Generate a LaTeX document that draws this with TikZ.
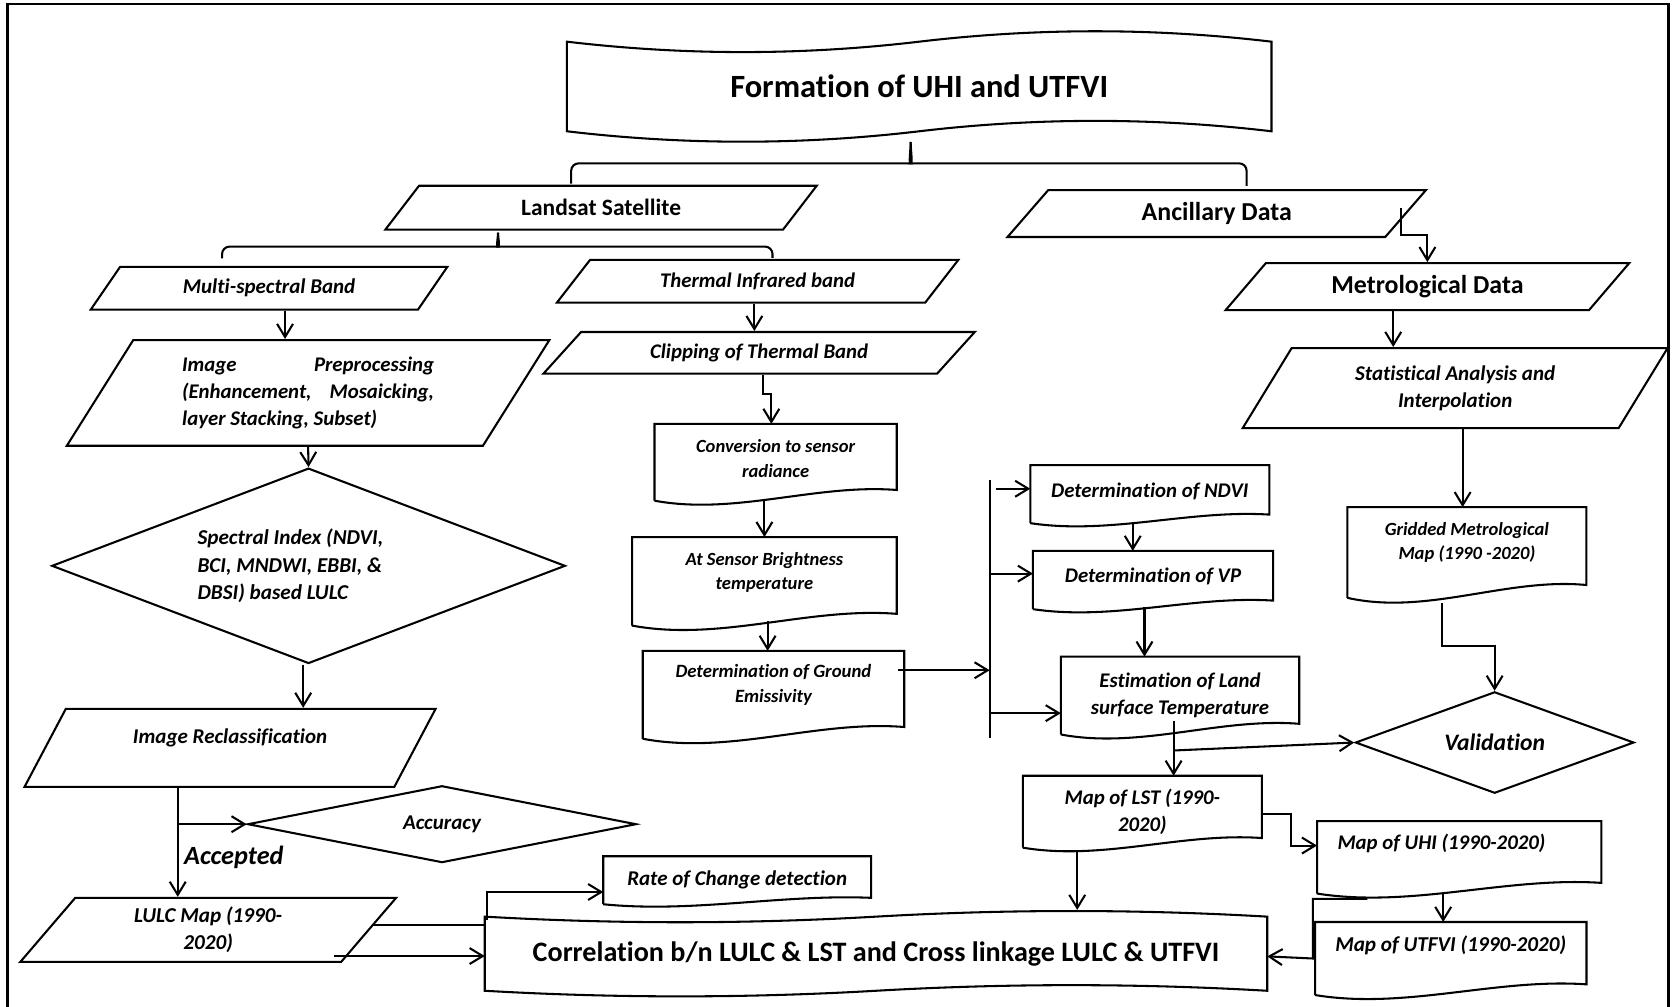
\documentclass[tikz,border=0pt]{standalone}
\usepackage{fontspec}
\setmainfont{Carlito}[Ligatures=NoCommon]
\usetikzlibrary{arrows.meta, positioning, shapes.geometric, calc}
\newcommand{\uu}{0.02cm}
\tikzset{
  every picture/.style={line width=1.1pt},
  line/.style={draw, line width=1.1pt},
  arrow/.style={draw, -{Straight Barb[length=7pt, width=8.5pt]}, line width=1.1pt},
  para/.code={\pgfmathsetmacro\rightang{180-#1}%
    \pgfkeysalso{trapezium, draw, trapezium left angle=#1, trapezium right angle=\rightang, trapezium stretches body, inner sep=0pt, align=flush center}},
  decision/.style={diamond, draw, aspect=#1, inner sep=0pt, align=flush center},
  docbox/.style={rectangle, inner sep=0pt, align=flush center},
  bi/.style={font=\bfseries\itshape\fontsize{#1}{1.3\dimexpr#1pt\relax}\selectfont},
  bd/.style={font=\bfseries\fontsize{#1}{1.22\dimexpr#1pt\relax}\selectfont},
}
\begin{document}
\begin{tikzpicture}[x=\uu, y=-\uu]
  \useasboundingbox (0,0) rectangle (1568,943);
  \draw[line width=1.3pt] (7,960) -- (7,4) -- (1563,4) -- (1563,960);

  % heading and the two data sources
  \node[docbox, minimum width=658*\uu, minimum height=82*\uu, bd=17.3] (title) at (861,81) {Formation of UHI and UTFVI};
  \node[para=26.3, minimum width=404*\uu, minimum height=41*\uu, bd=12.5] (landsat) at (563,194.5) {Landsat Satellite};
  \node[para=28.6, minimum width=392*\uu, minimum height=44*\uu, bd=13.8] (ancillary) at (1139.7,200) {Ancillary Data};

  % left column: optical bands to LULC
  \node[para=31.6, minimum width=334*\uu, minimum height=40*\uu, bi=11.2] (multi) at (252,270) {Multi-spectral Band};
  \node[para=47.4, minimum width=452*\uu, minimum height=99*\uu, bi=11.1, text width=236*\uu, align=flush left] (preproc) at (288.6,368) {Image\hfill Preprocessing\\(Enhancement,\hfill Mosaicking,\\layer Stacking, Subset)};
  \node[decision=2.63, minimum width=481*\uu, minimum height=183*\uu, bi=11.3, text width=208*\uu, align=flush left] (spectral) at (289,530) {Spectral Index (NDVI,\\BCI, MNDWI, EBBI, \&\\DBSI) based LULC};
  \node[para=43.5, minimum width=385*\uu, minimum height=73*\uu, bi=11.2, text depth=13pt] (reclass) at (215.5,700.5) {Image Reclassification};
  \node[decision=5.06, minimum width=364*\uu, minimum height=72*\uu, bi=11.2] (accuracy) at (414,772) {Accuracy};
  \node[bi=14] (accepted) at (219,803) {Accepted};
  \node[para=40.2, minimum width=352*\uu, minimum height=60*\uu, bi=11.3] (lulc) at (195,871) {LULC Map (1990-\\2020)};

  % middle column: thermal band to LST
  \node[para=27.2, minimum width=376*\uu, minimum height=40*\uu, bi=11.1] (thermal) at (709.6,263.5) {Thermal Infrared band};
  \node[para=25.7, minimum width=404*\uu, minimum height=39*\uu, bi=11.1] (clipping) at (711,330.5) {Clipping of Thermal Band};
  \node[docbox, minimum width=225*\uu, minimum height=70*\uu, bi=9.9, text depth=4pt] (conversion) at (726.5,433) {Conversion to sensor\\radiance};
  \node[docbox, minimum width=246*\uu, minimum height=81*\uu, bi=9.9, text depth=11pt] (brightness) at (716,544.5) {At Sensor Brightness\\temperature};
  \node[docbox, minimum width=243*\uu, minimum height=80.4*\uu, bi=10, text depth=12pt] (emissivity) at (724.5,650.8) {Determination of Ground\\Emissivity};
  \node[docbox, minimum width=222*\uu, minimum height=52.5*\uu, bi=11.1, text depth=4.5pt] (ndvi) at (1077,462.8) {Determination of NDVI};
  \node[docbox, minimum width=223*\uu, minimum height=52.6*\uu, bi=11.1, text depth=5pt] (vp) at (1080,543.3) {Determination of VP};
  \node[docbox, minimum width=221.4*\uu, minimum height=71*\uu, bi=11.1] (estimation) at (1105.3,651.5) {Estimation of Land\\surface Temperature};
  \node[docbox, minimum width=222*\uu, minimum height=65.4*\uu, bi=11.1] (lstmap) at (1070,760.3) {Map of LST (1990-\\2020)};
  \node[docbox, minimum width=264.4*\uu, minimum height=66*\uu, bi=11.1, text width=228*\uu, align=flush left, text depth=16.5pt] (uhimap) at (1366.8,803) {Map of UHI (1990-2020)};
  \node[docbox, minimum width=252.3*\uu, minimum height=66.5*\uu, bi=11.3, text depth=16pt] (utfvimap) at (1358.9,897.8) {Map of UTFVI (1990-2020)};
  \node[docbox, minimum width=249*\uu, minimum height=43*\uu, bi=11.2] (rate) at (690.5,824.5) {Rate of Change detection};
  \node[docbox, minimum width=731*\uu, minimum height=67.5*\uu, bd=15] (correlation) at (820.5,893.3) {Correlation b/n LULC \& LST and Cross linkage LULC \& UTFVI};

  % right column: meteorological data
  \node[para=29.3, minimum width=378*\uu, minimum height=44*\uu, bd=13.8] (metro) at (1337,268.5) {Metrological Data};
  \node[para=42.8, minimum width=398*\uu, minimum height=75*\uu, bi=11.2] (stats) at (1363,363.5) {Statistical Analysis and\\Interpolation};
  \node[docbox, minimum width=222*\uu, minimum height=83*\uu, bi=9.9, text depth=12.7pt] (gridded) at (1374,517.5) {Gridded Metrological\\Map (1990 -2020)};
  \node[decision=2.75, minimum width=261*\uu, minimum height=95*\uu, bi=12.6] (validation) at (1400,695.5) {Validation};

  % outlines: documents with a wavy bottom, banners waved top and bottom
  \foreach \n/\r in {conversion/10, brightness/11, emissivity/11, ndvi/8, vp/8, estimation/10, gridded/12, lstmap/9, uhimap/10, utfvimap/10, rate/6}
    \draw[line] (\n.south west) -- (\n.north west) -- (\n.north east) -- ($(\n.south east)+(0,-\r)$)
      .. controls ($(\n.south east)!0.333!(\n.south west)+(0,-1.6*\r)$) and ($(\n.south east)!0.667!(\n.south west)+(0,1.4*\r)$) .. (\n.south west);
  \foreach \n/\a in {title/13, correlation/7}
    \draw[line] (\n.north west)
      .. controls ($(\n.north west)!0.1667!(\n.north east)+(0,\a)$) and ($(\n.north west)!0.3333!(\n.north east)+(0,\a)$) .. (\n.north)
      .. controls ($(\n.north west)!0.6667!(\n.north east)+(0,-\a)$) and ($(\n.north west)!0.8333!(\n.north east)+(0,-\a)$) .. (\n.north east)
      -- (\n.south east)
      .. controls ($(\n.south west)!0.8333!(\n.south east)+(0,-\a)$) and ($(\n.south west)!0.6667!(\n.south east)+(0,-\a)$) .. (\n.south)
      .. controls ($(\n.south west)!0.3333!(\n.south east)+(0,\a)$) and ($(\n.south west)!0.1667!(\n.south east)+(0,\a)$) .. (\n.south west)
      -- cycle;

  % braces under the heading and under Landsat
  \coordinate (tip) at ($(title.center)+(-8,52)$);
  \draw[line, rounded corners=4pt] ($(landsat.center |- landsat.north)+(-28,-1)$) |- ($(tip)+(-7,20)$) .. controls ($(tip)+(-2,20)$) and ($(tip)+(0,8)$) .. (tip);
  \draw[line, rounded corners=4pt] ($(ancillary.center |- ancillary.north)+(28,-3)$) |- ($(tip)+(7,20)$) .. controls ($(tip)+(2,20)$) and ($(tip)+(0,8)$) .. (tip);
  \coordinate (tip2) at ($(landsat.center |- landsat.south)+(-96.5,2)$);
  \draw[line, rounded corners=4pt] ($(multi.center |- multi.north)+(-44,-7)$) |- ($(tip2)+(-7,13)$) .. controls ($(tip2)+(-2,13)$) and ($(tip2)+(0,5)$) .. (tip2);
  \draw[line, rounded corners=4pt] ($(thermal.center |- thermal.north)+(14,-1)$) |- ($(tip2)+(7,13)$) .. controls ($(tip2)+(2,13)$) and ($(tip2)+(0,5)$) .. (tip2);

  % left column
  \draw[arrow] ($(multi.center |- multi.south)+(15,0)$) coordinate (m0) -- (m0 |- preproc.north);
  \draw[arrow] (preproc.center |- preproc.south) -- (spectral.north);
  \draw[arrow] ($(spectral.south)+(-5,0)$) coordinate (p0) -- (p0 |- reclass.north);
  \draw[arrow] ($(reclass.center |- reclass.south)+(-49,0)$) coordinate (r0) -- (r0 |- lulc.north);
  \draw[arrow] (r0 |- accuracy.west) -- (accuracy.west);
  \draw[line] ($(lulc.center)+(153,-4.5)$) coordinate (c1) -- (c1 -| correlation.west);
  \draw[arrow] ($(lulc.center)+(118,24.5)$) coordinate (c2) -- (c2 -| correlation.west);
  \draw[arrow] ($(correlation.west)+(2,-32)$) |- ($(rate.west)+(0,11)$);

  % middle column
  \draw[arrow] ($(thermal.center |- thermal.south)+(-3,0)$) coordinate (h1) -- (h1 |- clipping.north);
  \draw[arrow] ($(clipping.center |- clipping.south)+(4,0)$) |- ($(conversion.north)+(-4,-28)$) -- ($(conversion.north)+(-4,0)$);
  \draw[arrow] ($(conversion.south -| brightness.north)+(0,-2)$) -- (brightness.north);
  \draw[arrow] ($(brightness.south)+(3,-4)$) coordinate (b0) -- (b0 |- emissivity.north);
  \coordinate (bustop) at (927,450);
  \coordinate (busbot) at (927,691);
  \draw[line] (bustop) -- (busbot);
  \draw[arrow] ($(emissivity.east)+(-6,-23)$) coordinate (e0) -- (e0 -| bustop);
  \draw[arrow] ($(ndvi.west -| bustop)+(6,-5)$) -- ($(ndvi.west)+(0,-5)$);
  \draw[arrow] ($(vp.west -| bustop)+(0,-6)$) -- ($(vp.west)+(0,-6)$);
  \draw[arrow] ($(estimation.west -| bustop)+(0,16.5)$) -- ($(estimation.west)+(0,16.5)$);
  \draw[arrow] ($(ndvi.south)+(-16,0)$) coordinate (n0) -- (n0 |- vp.north);
  \draw[arrow] ($(vp.south)+(-8,-2)$) coordinate (v0) -- (v0 |- estimation.north);
  \draw[arrow] ($(estimation.south)+(-6,-13)$) coordinate (t0) -- (t0 |- lstmap.north);
  \draw[arrow] ($(t0)+(0,28)$) -- (validation.west);
  \draw[arrow] ($(lstmap.south)+(-61,3)$) coordinate (s0) -- ($(s0 |- correlation.center)+(0,-41)$);
  \draw[arrow] ($(lstmap.east)+(0,2)$) -- ++(27,0) |- ($(uhimap.west)+(0,-11)$);
  \draw[arrow] ($(uhimap.south)+(-15,-1)$) coordinate (u0) -- (u0 |- utfvimap.north);
  \draw[arrow] ($(uhimap.south)+(-86,5)$) -| ($(utfvimap.west)+(-2,0)$) -- ($(utfvimap.west -| correlation.east)+(0,-2)$);

  % right column
  \draw[arrow] ($(ancillary.center)+(173,-5)$) |- ($(metro.center |- metro.north)+(0,-25)$) -- (metro.center |- metro.north);
  \draw[arrow] ($(metro.center |- metro.south)+(-32,0)$) coordinate (g0) -- (g0 |- stats.north);
  \draw[arrow] ($(stats.center |- stats.south)+(7,0)$) coordinate (g1) -- (g1 |- gridded.north);
  \draw[arrow] ($(gridded.south)+(-23,5)$) |- ($(validation.north)+(0,-42)$) -- (validation.north);
\end{tikzpicture}
\end{document}
